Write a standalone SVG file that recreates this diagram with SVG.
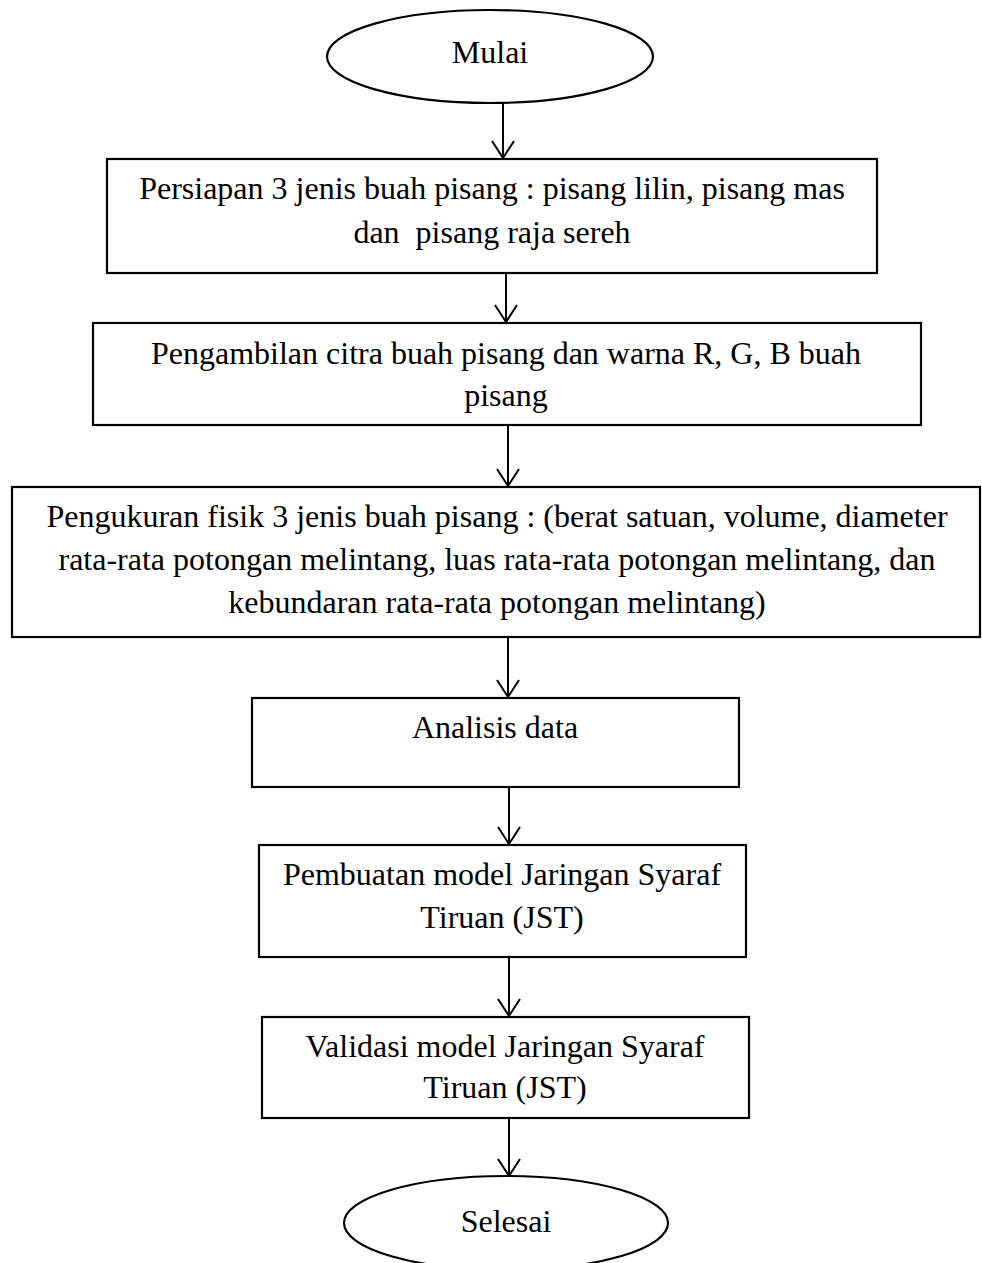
<svg xmlns="http://www.w3.org/2000/svg" width="982" height="1263" viewBox="0 0 982 1263">
  <style>
    .shape { fill: #ffffff; stroke: #000000; stroke-width: 2.2; }
    .label { font-family: "Liberation Serif", "Times New Roman", serif; font-size: 32px; fill: #000000; text-anchor: middle; }
    .flow { fill: none; stroke: #000000; stroke-width: 2; }
  </style>
  <defs>
    <marker id="arrow" markerUnits="userSpaceOnUse" markerWidth="40" markerHeight="40" refX="0" refY="0" orient="auto" overflow="visible">
      <path d="M -17 -11 L 0 0 L -17 11" fill="none" stroke="#000000" stroke-width="2"/>
    </marker>
  </defs>

  <rect x="0" y="0" width="982" height="1263" fill="#ffffff"/>

  <!-- connectors -->
  <g id="connectors">
    <line class="flow" x1="503" y1="103" x2="503" y2="158" marker-end="url(#arrow)"/>
    <line class="flow" x1="506" y1="273" x2="506" y2="322" marker-end="url(#arrow)"/>
    <line class="flow" x1="508" y1="425" x2="508" y2="486" marker-end="url(#arrow)"/>
    <line class="flow" x1="508" y1="637" x2="508" y2="697" marker-end="url(#arrow)"/>
    <line class="flow" x1="509" y1="787" x2="509" y2="844" marker-end="url(#arrow)"/>
    <line class="flow" x1="509" y1="957" x2="509" y2="1016" marker-end="url(#arrow)"/>
    <line class="flow" x1="509" y1="1118" x2="509" y2="1176" marker-end="url(#arrow)"/>
  </g>

  <!-- start -->
  <g id="mulai">
    <ellipse class="shape" cx="490" cy="56.5" rx="163" ry="46.5"/>
    <text class="label" x="490" y="63">Mulai</text>
  </g>

  <!-- step 1: preparation -->
  <g id="persiapan">
    <rect class="shape" x="107" y="159" width="770" height="114"/>
    <text class="label" x="492" y="199">Persiapan 3 jenis buah pisang : pisang lilin, pisang mas</text>
    <text class="label" x="492" y="243" xml:space="preserve">dan  pisang raja sereh</text>
  </g>

  <!-- step 2: image capture -->
  <g id="pengambilan-citra">
    <rect class="shape" x="93" y="323" width="828" height="102"/>
    <text class="label" x="506" y="364">Pengambilan citra buah pisang dan warna R, G, B buah</text>
    <text class="label" x="506" y="406">pisang</text>
  </g>

  <!-- step 3: physical measurement -->
  <g id="pengukuran-fisik">
    <rect class="shape" x="12" y="487" width="968" height="150"/>
    <text class="label" x="497" y="527">Pengukuran fisik 3 jenis buah pisang : (berat satuan, volume, diameter</text>
    <text class="label" x="497" y="570">rata-rata potongan melintang, luas rata-rata potongan melintang, dan</text>
    <text class="label" x="497" y="613">kebundaran rata-rata potongan melintang)</text>
  </g>

  <!-- step 4: analysis -->
  <g id="analisis-data">
    <rect class="shape" x="252" y="698" width="487" height="89"/>
    <text class="label" x="495" y="738">Analisis data</text>
  </g>

  <!-- step 5: model building -->
  <g id="pembuatan-model">
    <rect class="shape" x="259" y="845" width="487" height="112"/>
    <text class="label" x="502" y="885">Pembuatan model Jaringan Syaraf</text>
    <text class="label" x="502" y="928">Tiruan (JST)</text>
  </g>

  <!-- step 6: model validation -->
  <g id="validasi-model">
    <rect class="shape" x="262" y="1017" width="487" height="101"/>
    <text class="label" x="505" y="1057">Validasi model Jaringan Syaraf</text>
    <text class="label" x="505" y="1098">Tiruan (JST)</text>
  </g>

  <!-- end -->
  <g id="selesai">
    <ellipse class="shape" cx="506" cy="1223" rx="162" ry="47"/>
    <text class="label" x="506" y="1232">Selesai</text>
  </g>
</svg>
